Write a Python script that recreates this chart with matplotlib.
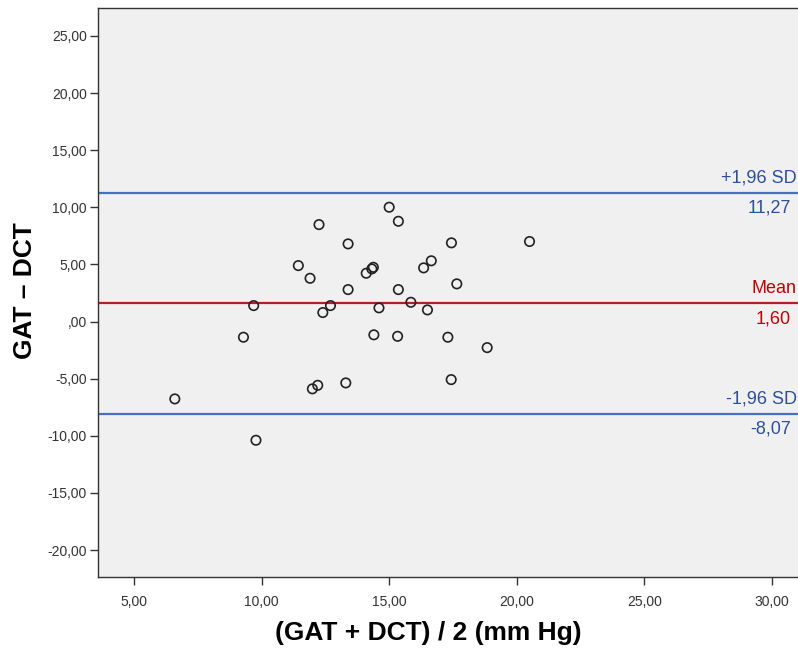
import matplotlib
matplotlib.use("Agg")
import matplotlib.pyplot as plt
from matplotlib.ticker import FuncFormatter

plt.rcParams['font.family'] = ['Liberation Sans', 'DejaVu Sans']

mean_x = [6.60, 9.29, 9.69, 9.78, 11.44, 11.90, 12.25, 11.99, 12.20, 12.40, 12.70,
          13.30, 13.39, 13.39, 14.10, 14.32, 14.38, 14.40, 14.60, 15.00, 15.36,
          15.36, 15.33, 15.85, 16.35, 16.65, 16.50, 17.30, 17.44, 17.43, 17.65,
          18.84, 20.50]
diff_y = [-6.77, -1.37, 1.40, -10.39, 4.90, 3.79, 8.49, -5.89, -5.58, 0.79, 1.40,
          -5.37, 6.80, 2.80, 4.23, 4.61, 4.75, -1.16, 1.20, 10.01, 8.78,
          2.80, -1.29, 1.69, 4.70, 5.32, 1.02, -1.37, 6.89, -5.08, 3.30,
          -2.28, 7.01]
mean_diff = 1.60
upper_loa = 11.27
lower_loa = -8.07
x_ticks = [5, 10, 15, 20, 25, 30]
y_ticks = [-20, -15, -10, -5, 0, 5, 10, 15, 20, 25]

W, H = 798, 652
fig = plt.figure(figsize=(W/100, H/100), dpi=100)
ax = fig.add_axes([98/W, 75/H, 1 - 98/W, (577-8)/H])
ax.set_facecolor('#F0F0F0')

blue = '#4A6EC0'
red = '#B3201F'
ax.axhline(upper_loa, color=blue, lw=1.6, zorder=2)
ax.axhline(lower_loa, color=blue, lw=1.6, zorder=2)
ax.axhline(mean_diff, color=red, lw=1.6, zorder=2)

ax.scatter(mean_x, diff_y, s=46, facecolors='none', edgecolors='#222222',
           linewidths=1.2, zorder=3)

ax.set_xlim(3.59, 31.02)
ax.set_ylim(-22.36, 27.45)
ax.set_xticks(x_ticks)
ax.set_yticks(y_ticks)

def fmt(v, pos):
    s = f"{v:.2f}".replace('.', ',')
    if s.startswith('0,'):
        s = s[1:]
    if s.startswith('-0,'):
        s = '-' + s[2:]
    return s

ax.xaxis.set_major_formatter(FuncFormatter(fmt))
ax.yaxis.set_major_formatter(FuncFormatter(fmt))
ax.tick_params(axis='both', direction='out', length=6, width=1, color='#333333',
               labelsize=10, labelcolor='#333333', pad=2)
ax.tick_params(axis='x', pad=7)
for side in ['left', 'bottom', 'top']:
    ax.spines[side].set_color('#333333')
    ax.spines[side].set_linewidth(1)
ax.spines['right'].set_visible(False)

fig.text(428/W, 1 - 633/H, '(GAT + DCT) / 2 (mm Hg)', fontsize=19, fontweight='bold',
         ha='center', va='center')
fig.text(25/W, 1 - 291/H, 'GAT \u2013 DCT', fontsize=19, fontweight='bold',
         ha='center', va='center', rotation=90)

lab_x = 30.98
val_x = 30.73
tcol_b = '#2D4F9A'
tcol_r = '#C00000'
fs = 13
ax.text(lab_x, upper_loa + 0.55, '+1,96 SD', color=tcol_b, fontsize=fs, ha='right', va='bottom', clip_on=False)
ax.text(val_x, upper_loa - 0.6, f"{upper_loa:.2f}".replace('.', ','), color=tcol_b, fontsize=fs, ha='right', va='top', clip_on=False)
ax.text(lab_x, mean_diff + 0.55, 'Mean', color=tcol_r, fontsize=fs, ha='right', va='bottom', clip_on=False)
ax.text(val_x, mean_diff - 0.6, f"{mean_diff:.2f}".replace('.', ','), color=tcol_r, fontsize=fs, ha='right', va='top', clip_on=False)
ax.text(lab_x, lower_loa + 0.55, '-1,96 SD', color=tcol_b, fontsize=fs, ha='right', va='bottom', clip_on=False)
ax.text(val_x, lower_loa - 0.6, f"{lower_loa:.2f}".replace('.', ','), color=tcol_b, fontsize=fs, ha='right', va='top', clip_on=False)

fig.savefig('out.png', dpi=100)
